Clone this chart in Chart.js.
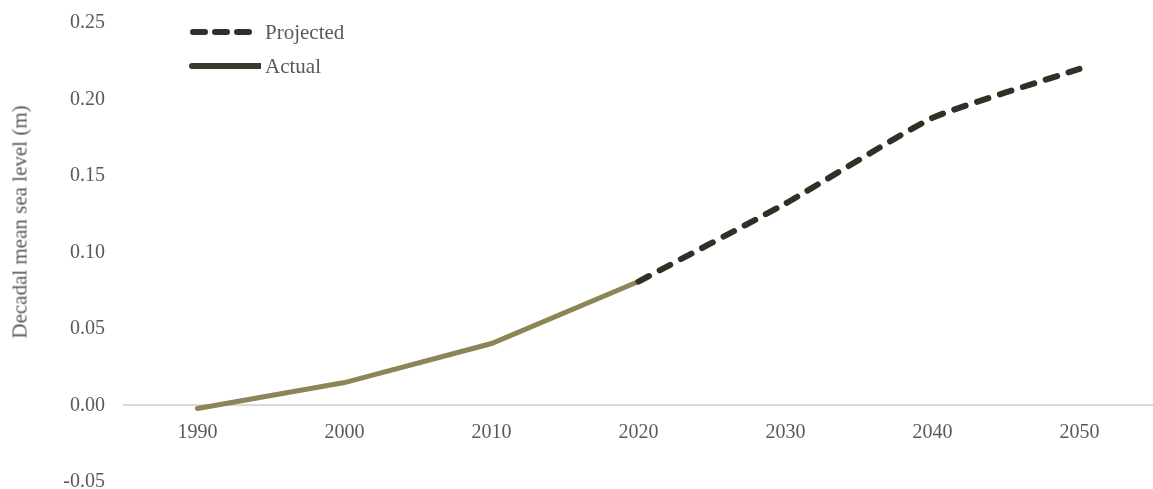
<!DOCTYPE html>
<html>
<head>
<meta charset="utf-8">
<script src="https://cdn.jsdelivr.net/npm/chart.js@4.4.1/dist/chart.umd.min.js"></script>
<style>
  html, body { margin: 0; padding: 0; background: #fff; }
  #wrap { position: relative; width: 1153px; height: 489px; }
  #legend { position: absolute; left: 189px; top: 15px; font-family: "Liberation Serif", serif; font-size: 21px; color: #595959; }
  #legend div { display: flex; align-items: center; height: 34px; }
  #legend svg { margin-right: 4px; }
  #ytitle {
    position: absolute; left: 20px; top: 222px; white-space: nowrap;
    transform: translate(-50%, -50%) rotate(-90deg);
    font-family: "Liberation Serif", serif; font-size: 21px; color: #595959;
  }
</style>
</head>
<body>
<div id="wrap">
  <canvas id="chart" width="1153" height="489"></canvas>
  <div id="ytitle">Decadal mean sea level (m)</div>
  <div id="legend">
    <div><svg width="72" height="10"><line x1="4" y1="5" x2="68" y2="5" stroke="#2f3126" stroke-width="6" stroke-linecap="round" stroke-dasharray="12 10"/></svg>Projected</div>
    <div><svg width="72" height="10"><line x1="3" y1="5" x2="71" y2="5" stroke="#3a3b2e" stroke-width="6" stroke-linecap="round"/></svg>Actual</div>
  </div>
</div>
<script>
const years = ['1990', '2000', '2010', '2020', '2030', '2040', '2050'];
const actual = [-0.002, 0.015, 0.0405, 0.081, null, null, null];
const projected = [null, null, null, 0.081, 0.132, 0.188, 0.22];
const yTicks = [-0.05, 0, 0.05, 0.10, 0.15, 0.20, 0.25];

const tickFont = { family: '"Liberation Serif", serif', size: 20 };
const textColor = '#595959';

new Chart(document.getElementById('chart'), {
  type: 'line',
  data: {
    labels: years,
    datasets: [
      {
        label: 'Projected',
        data: projected,
        borderColor: '#2f3126',
        borderWidth: 6,
        borderDash: [12, 12],
        borderCapStyle: 'round',
        pointRadius: 0,
        tension: 0.15
      },
      {
        label: 'Actual',
        data: actual,
        borderColor: '#8c8656',
        borderWidth: 5,
        borderCapStyle: 'round',
        pointRadius: 0,
        tension: 0
      }
    ]
  },
  options: {
    responsive: false,
    animation: false,
    layout: { padding: { left: 0, right: 0, top: 23, bottom: 7 } },
    plugins: {
      legend: { display: false },
      tooltip: { enabled: false }
    },
    scales: {
      x: {
        position: { y: 0 },
        offset: true,
        afterFit: (axis) => { axis.height = 0; },
        grid: { display: false, offset: true },
        border: { color: '#d9d9d9', width: 2 },
        ticks: { color: textColor, font: tickFont, padding: 7 }
      },
      y: {
        min: -0.05,
        max: 0.25,
        afterBuildTicks: (axis) => { axis.ticks = yTicks.map(v => ({ value: v })); },
        // fixed axis width (room for the title), and let the end labels
        // hang over the plot edges
        afterFit: (axis) => { axis.width = 124; axis.paddingTop = 0; axis.paddingBottom = 0; },
        grid: { display: false },
        border: { display: false },
        ticks: {
          color: textColor,
          font: tickFont,
          padding: 11,
          callback: (v) => v.toFixed(2)
        }
      }
    }
  }
});
</script>
</body>
</html>
